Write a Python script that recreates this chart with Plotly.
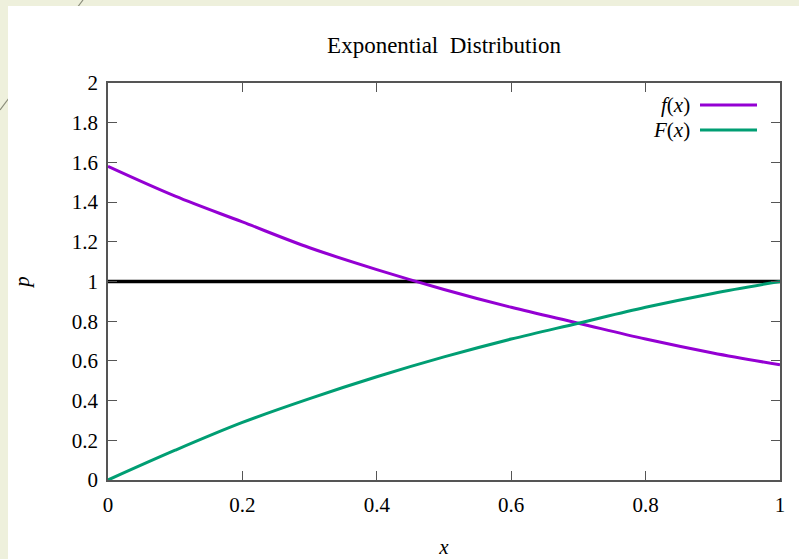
import plotly.graph_objects as go

x_vals = [0.0, 0.1, 0.2, 0.3, 0.4, 0.5, 0.6, 0.7, 0.8, 0.9, 1.0]
f_vals = [1.58, 1.43, 1.30, 1.17, 1.06, 0.96, 0.87, 0.79, 0.71, 0.64, 0.58]
F_vals = [0.0, 0.15, 0.29, 0.41, 0.52, 0.62, 0.71, 0.79, 0.87, 0.94, 1.0]
ref_x = [0.0, 1.0]
ref_y = [1.0, 1.0]
x_ticks = [0, 0.2, 0.4, 0.6, 0.8, 1]
y_ticks = [0, 0.2, 0.4, 0.6, 0.8, 1, 1.2, 1.4, 1.6, 1.8, 2]

PURPLE = "#9400d3"
GREEN = "#009e73"
FONT = "Liberation Serif"

fig = go.Figure()
fig.add_trace(go.Scatter(x=ref_x, y=ref_y, mode="lines",
                         line=dict(color="black", width=3.5), showlegend=False))
fig.add_trace(go.Scatter(x=x_vals, y=f_vals, mode="lines", name="f(x)",
                         line=dict(color=PURPLE, width=3, shape="spline"), showlegend=False))
fig.add_trace(go.Scatter(x=x_vals, y=F_vals, mode="lines", name="F(x)",
                         line=dict(color=GREEN, width=3, shape="spline"), showlegend=False))

axis_common = dict(showgrid=False, zeroline=False, showline=True, linecolor="#555555",
                   linewidth=1.5, mirror="ticks", ticks="inside", ticklen=9,
                   tickcolor="#555555", tickwidth=1.2, automargin=False,
                   tickfont=dict(family=FONT, size=21, color="black"))

fig.update_layout(
    width=799, height=559,
    margin=dict(l=108, r=19, t=83, b=79),
    paper_bgcolor="#eef0dc", plot_bgcolor="white",
    font=dict(family=FONT, color="black"),
    title=dict(text="Exponential&nbsp;&nbsp;Distribution", x=444/799, xanchor="center",
               y=1-45/559, yanchor="middle", font=dict(family=FONT, size=23)),
    xaxis=dict(range=[0, 1], tickvals=x_ticks, ticktext=[str(v) for v in x_ticks],
               ticklabelstandoff=5,
               title=dict(text="<i>x</i>", font=dict(family=FONT, size=21), standoff=24),
               **axis_common),
    yaxis=dict(range=[0, 2], tickvals=y_ticks, ticktext=[("%g" % v) for v in y_ticks],
               ticklabelstandoff=4,
               title=dict(text="<i>p</i>", font=dict(family=FONT, size=21), standoff=36),
               **axis_common),
    shapes=[
        dict(type="line", xref="paper", yref="paper",
             x0=(83-108)/672, y0=(480-0)/397, x1=(0-108)/672, y1=(480-110)/397,
             line=dict(color="#8a8c7a", width=1.2), layer="below"),
        dict(type="rect", xref="paper", yref="paper",
             x0=(8-108)/672, x1=(799-108)/672, y0=(480-559)/397, y1=(480-6)/397,
             fillcolor="white", line=dict(width=0), layer="below"),
        dict(type="line", xref="paper", yref="paper",
             x0=(700-108)/672, x1=(757-108)/672, y0=(480-105)/397, y1=(480-105)/397,
             line=dict(color=PURPLE, width=3)),
        dict(type="line", xref="paper", yref="paper",
             x0=(700-108)/672, x1=(757-108)/672, y0=(480-130)/397, y1=(480-130)/397,
             line=dict(color=GREEN, width=3)),
    ],
    annotations=[
        dict(text="<i>f</i>(<i>x</i>)", xref="paper", yref="paper",
             x=(692-108)/672, y=(480-105)/397, xanchor="right", yanchor="middle",
             showarrow=False, font=dict(family=FONT, size=21)),
        dict(text="<i>F</i>(<i>x</i>)", xref="paper", yref="paper",
             x=(692-108)/672, y=(480-130)/397, xanchor="right", yanchor="middle",
             showarrow=False, font=dict(family=FONT, size=21)),
    ],
)

fig.write_html("out.html", config={"displayModeBar": False},
               post_script="document.body.style.margin='0';document.body.style.background='#eef0dc';")
